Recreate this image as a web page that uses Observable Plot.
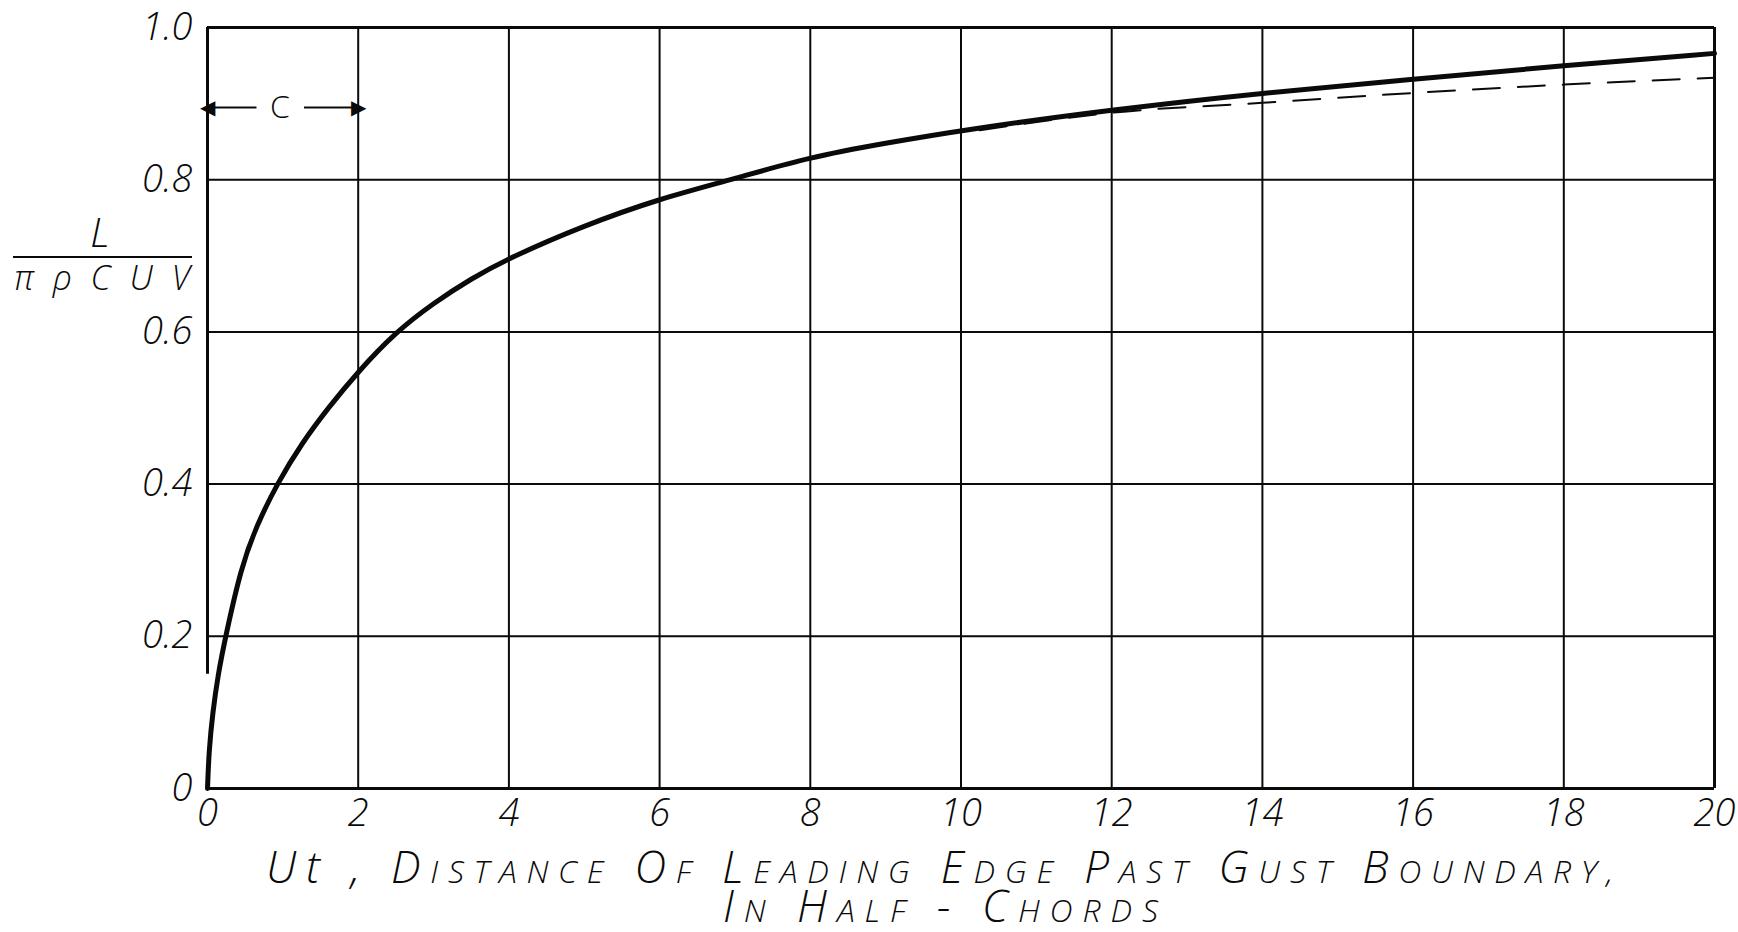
<!DOCTYPE html>
<html><head><meta charset="utf-8">
<script src="https://cdn.jsdelivr.net/npm/d3@7"></script>
<script src="https://cdn.jsdelivr.net/npm/@observablehq/plot@0.6"></script>
<style>body{margin:0;background:#fff}</style>
</head><body><div id="chart"></div>
<script>
// Solid curve
const solidX = [0, 0.02, 0.067, 0.14, 0.24, 0.447, 0.65, 0.92, 1.26, 1.6, 2, 2.5, 3, 3.5, 4, 5, 6, 6.95, 8, 9, 10, 12, 14, 16, 18, 20];
const solidY = [0, 0.05, 0.098, 0.15, 0.2, 0.291, 0.345, 0.4, 0.455, 0.5, 0.548, 0.6, 0.638, 0.67, 0.697, 0.74, 0.775, 0.8, 0.83, 0.848, 0.865, 0.892, 0.914, 0.932, 0.95, 0.966];
// Dashed curve
const dashX = [10.25, 12, 14, 16, 18, 20];
const dashY = [0.865, 0.888, 0.901, 0.914, 0.925, 0.934];
// Ticks
const xTicks = [0, 2, 4, 6, 8, 10, 12, 14, 16, 18, 20];
const yTicks = [0, 0.2, 0.4, 0.6, 0.8, 1.0];
const yTickLabels = ["0", "0.2", "0.4", "0.6", "0.8", "1.0"];
// Chord annotation
const chordLabel = "C";
const chordFrom = [0.65, 1.28];
const chordTo = [0, 2];
const chordY = 0.895;
const chordLabelX = 0.96;
// Texts
const xTitle1 = "Ut , Distance Of Leading Edge Past Gust Boundary,";
const xTitle2 = "In Half - Chords";
const yNumer = "L";
const yDenom = "πρCUV";

const solid = solidX.map((x, i) => ({x, y: solidY[i]}));
const dash = dashX.map((x, i) => ({x, y: dashY[i]}));
const chordArrows = chordFrom.map((x1, i) => ({x1, x2: chordTo[i], y: chordY}));

const ink = "#0a0a0a";
const plot = Plot.plot({
  width: 1738, height: 932,
  marginLeft: 207, marginRight: 24, marginTop: 27, marginBottom: 144,
  x: {domain: [0, 20], ticks: xTicks, tickSize: 0, tickPadding: 11, label: null},
  y: {domain: [0, 1], ticks: yTicks, tickSize: 0, tickPadding: 15, label: null,
      tickFormat: d => yTickLabels[yTicks.findIndex(t => Math.abs(t - d) < 1e-9)]},
  style: {fontFamily: '"Open Sans", "DejaVu Sans", sans-serif', fontSize: "38px", fontStyle: "italic",
          fontWeight: 300, background: "#fff", color: ink, overflow: "visible"},
  marks: [
    Plot.ruleX(xTicks.filter(d => d > 0 && d < 20), {stroke: ink, strokeWidth: 2}),
    Plot.ruleY(yTicks.filter(d => d > 0 && d < 1), {stroke: ink, strokeWidth: 2}),
    Plot.ruleY([0, 1], {stroke: ink, strokeWidth: 3}),
    Plot.ruleX([20], {stroke: ink, strokeWidth: 3}),
    Plot.ruleX([0], {y1: 0.15, y2: 1, stroke: ink, strokeWidth: 3}),
    Plot.line(dash, {x: "x", y: "y", curve: "monotone-x", stroke: ink, strokeWidth: 2, strokeDasharray: "27,18"}),
    Plot.line(solid, {x: "x", y: "y", curve: "basis", stroke: ink, strokeWidth: 5}),
    Plot.link(chordArrows, {x1: "x1", x2: "x2", y1: "y", y2: "y", stroke: ink, strokeWidth: 2}),
    Plot.text(chordArrows, {x: "x2", y: "y", text: d => d.x2 < d.x1 ? "◀" : "▶",
      textAnchor: d => d.x2 < d.x1 ? "start" : "end", fontSize: 20, fontStyle: "normal",
      fontFamily: "DejaVu Sans", fill: ink}),
    Plot.text([chordLabel], {x: chordLabelX, y: chordY, text: d => d, fontSize: 32, fontStyle: "normal", fill: ink})
  ]
});
document.getElementById("chart").appendChild(plot);

const svg = d3.select(plot);
function addSmallCaps(textSel, str, big, small) {
  str.split(/(\s+)/).forEach(w => {
    if (!w) return;
    if (/^\s+$/.test(w) || w === "Ut") { textSel.append("tspan").attr("font-size", big).text(w); return; }
    textSel.append("tspan").attr("font-size", big).text(w[0].toUpperCase());
    if (w.length > 1) textSel.append("tspan").attr("font-size", small).text(w.slice(1).toUpperCase());
  });
}
function fitWidth(textSel, target, nChars) {
  const w = textSel.node().getComputedTextLength();
  const ls = (target - w) / Math.max(1, nChars - 1);
  textSel.attr("letter-spacing", ls);
}
const tg = svg.append("g").attr("fill", ink).attr("font-style", "italic").attr("font-weight", 300)
  .attr("text-anchor", "start")
  .attr("font-family", '"Open Sans", "DejaVu Sans", sans-serif');
const t1 = tg.append("text").attr("x", 266).attr("y", 883);
addSmallCaps(t1, xTitle1, 44, 32);
fitWidth(t1, 1347, xTitle1.length);
const t2 = tg.append("text").attr("x", 723).attr("y", 922);
addSmallCaps(t2, xTitle2, 44, 32);
fitWidth(t2, 435, xTitle2.length);
// y label fraction
tg.append("text").attr("x", 100).attr("y", 247).attr("text-anchor", "middle").attr("font-size", 40).text(yNumer);
tg.append("line").attr("x1", 13).attr("x2", 192).attr("y1", 257).attr("y2", 257).attr("stroke", ink).attr("stroke-width", 2);
const den = tg.append("text").attr("x", 14).attr("y", 290).attr("font-size", 34).text(yDenom);
fitWidth(den, 176, yDenom.length);
</script>
</body></html>
